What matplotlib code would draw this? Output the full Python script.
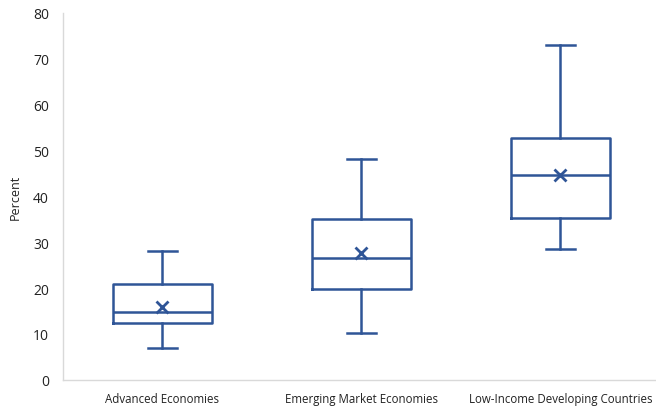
import matplotlib
matplotlib.use("Agg")
import matplotlib.pyplot as plt

plt.rcParams['font.family'] = ['Open Sans', 'DejaVu Sans']

categorias = ["Advanced Economies", "Emerging Market Economies", "Low-Income Developing Countries"]
minimos = [6.9, 10.2, 28.5]
q1 = [12.4, 19.8, 35.2]
medianas = [14.7, 26.6, 44.7]
q3 = [20.8, 35.1, 52.6]
maximos = [28.1, 48.0, 73.0]
medias = [15.8, 27.6, 44.7]

azul = "#2F5597"

stats = []
for i in range(len(categorias)):
    stats.append({"label": categorias[i], "whislo": minimos[i], "q1": q1[i],
                  "med": medianas[i], "q3": q3[i], "whishi": maximos[i],
                  "mean": medias[i], "fliers": []})

fig = plt.figure(figsize=(6.56, 4.1), dpi=100)
ax = fig.add_axes([0.096, 0.071, 0.904, 0.896])

estilo = dict(color=azul, linewidth=1.8)
ax.bxp(stats, positions=range(len(categorias)), widths=0.5, showmeans=True,
       boxprops=estilo, whiskerprops=estilo, capprops=estilo, medianprops=estilo,
       meanprops=dict(marker="x", markeredgecolor=azul, markersize=8, markeredgewidth=2),
       capwidths=0.15)

ax.set_xlim(-0.5, 2.48)
ax.set_ylim(0, 80)
ax.set_yticks(range(0, 81, 10))
ax.set_ylabel("Percent", fontsize=9, color="#222222", labelpad=8)
ax.tick_params(axis="y", length=0, labelsize=10, colors="#222222", pad=10)
ax.tick_params(axis="x", length=0, labelsize=8.3, colors="#222222", pad=9)
for lado in ["top", "right"]:
    ax.spines[lado].set_visible(False)
for lado in ["left", "bottom"]:
    ax.spines[lado].set_color("#D9D9D9")
    ax.spines[lado].set_linewidth(1)

plt.savefig("out.png")
